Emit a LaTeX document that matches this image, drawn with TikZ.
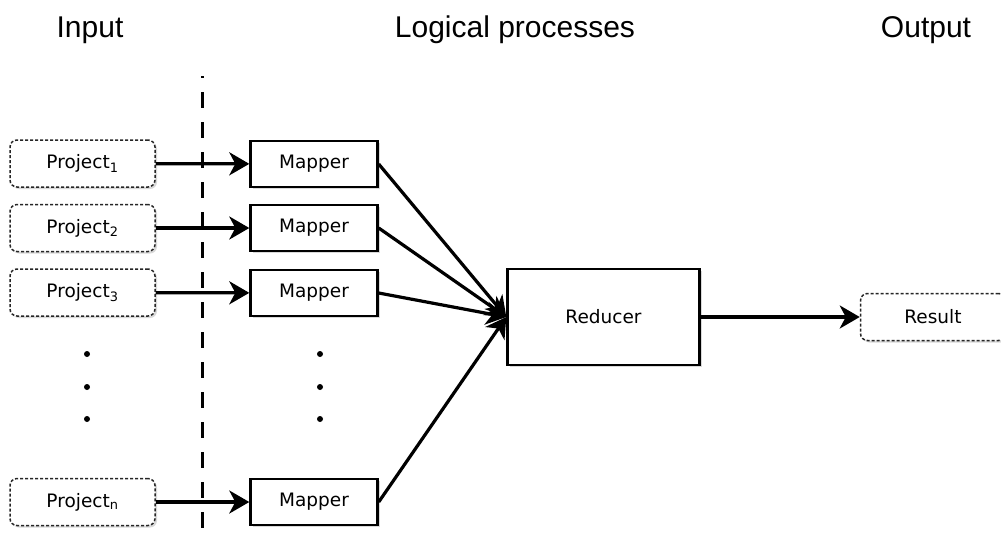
\documentclass[tikz,border=0pt]{standalone}
\usepackage{fontspec}
\usetikzlibrary{arrows.meta,shadows}
\newfontfamily\titlefont{Liberation Sans}
\newfontfamily\boxfont{DejaVu Sans}

\begin{document}
\begin{tikzpicture}[x=1pt,y=-1pt,
		title/.style={font=\titlefont\fontsize{30}{36}\selectfont, anchor=base},
		probox/.style={draw=black!85, line width=1.5pt, dash pattern=on 3pt off 2pt,
			rounded corners=7pt, fill=white, minimum width=145pt, minimum height=47pt,
			font=\boxfont\fontsize{18.5}{22}\selectfont,
			drop shadow={opacity=0.3, shadow xshift=2pt, shadow yshift=-2pt}},
		mapbox/.style={draw, line width=2.4pt, fill=white, minimum width=127pt, minimum height=46pt,
			font=\boxfont\fontsize{18.5}{22}\selectfont,
			drop shadow={opacity=0.3, shadow xshift=2pt, shadow yshift=-2pt}},
		link/.style={line width=3.2pt, -{Stealth[length=20pt,width=23pt,inset=6pt]}}]
		\useasboundingbox (0, 0) rectangle (1001, 539);
		\clip (0, 0) rectangle (1001, 539);

		% 标题
		\node[title] (tin) at (90, 37) {Input};
		\node[title] (tlog) at (515, 37) {Logical processes};
		\node[title] (tout) at (926, 37) {Output};

		% 虚线分隔
		\draw[line width=3pt, dash pattern=on 16pt off 14pt, dash phase=14pt] (202, 76) -- (202, 539);

		% 输入项目
		\node[probox] (p1) at (82.5, 163.5) {Project\textsubscript{1}};
		\node[probox] (p2) at (82.5, 228) {Project\textsubscript{2}};
		\node[probox] (p3) at (82.5, 292.5) {Project\textsubscript{3}};
		\node[probox] (pn) at (82.5, 502) {Project\textsubscript{n}};
		\fill (87, 354) circle (3);
		\fill (87, 387) circle (3);
		\fill (87, 419) circle (3);

		% Mapper
		\node[mapbox] (m1) at (314, 164) {Mapper};
		\node[mapbox] (m2) at (314, 228) {Mapper};
		\node[mapbox] (m3) at (314, 293) {Mapper};
		\node[mapbox] (mn) at (314, 502) {Mapper};
		\fill (320, 354) circle (3);
		\fill (320, 387) circle (3);
		\fill (320, 419) circle (3);

		% Reducer 和结果
		\node[mapbox, minimum width=192pt, minimum height=96pt] (red) at (603.5, 317) {Reducer};
		\node[probox] (res) at (933, 317) {Result};

		% 箭头
		\draw[link] (p1) -- (m1);
		\draw[link] (p2) -- (m2);
		\draw[link] (p3) -- (m3);
		\draw[link] (pn) -- (mn);
		\draw[link] (m1.east) -- (red.west);
		\draw[link] (m2.east) -- (red.west);
		\draw[link] (m3.east) -- (red.west);
		\draw[link] (mn.east) -- (red.west);
		\draw[link] (red) -- (res);
	\end{tikzpicture}
\end{document}
